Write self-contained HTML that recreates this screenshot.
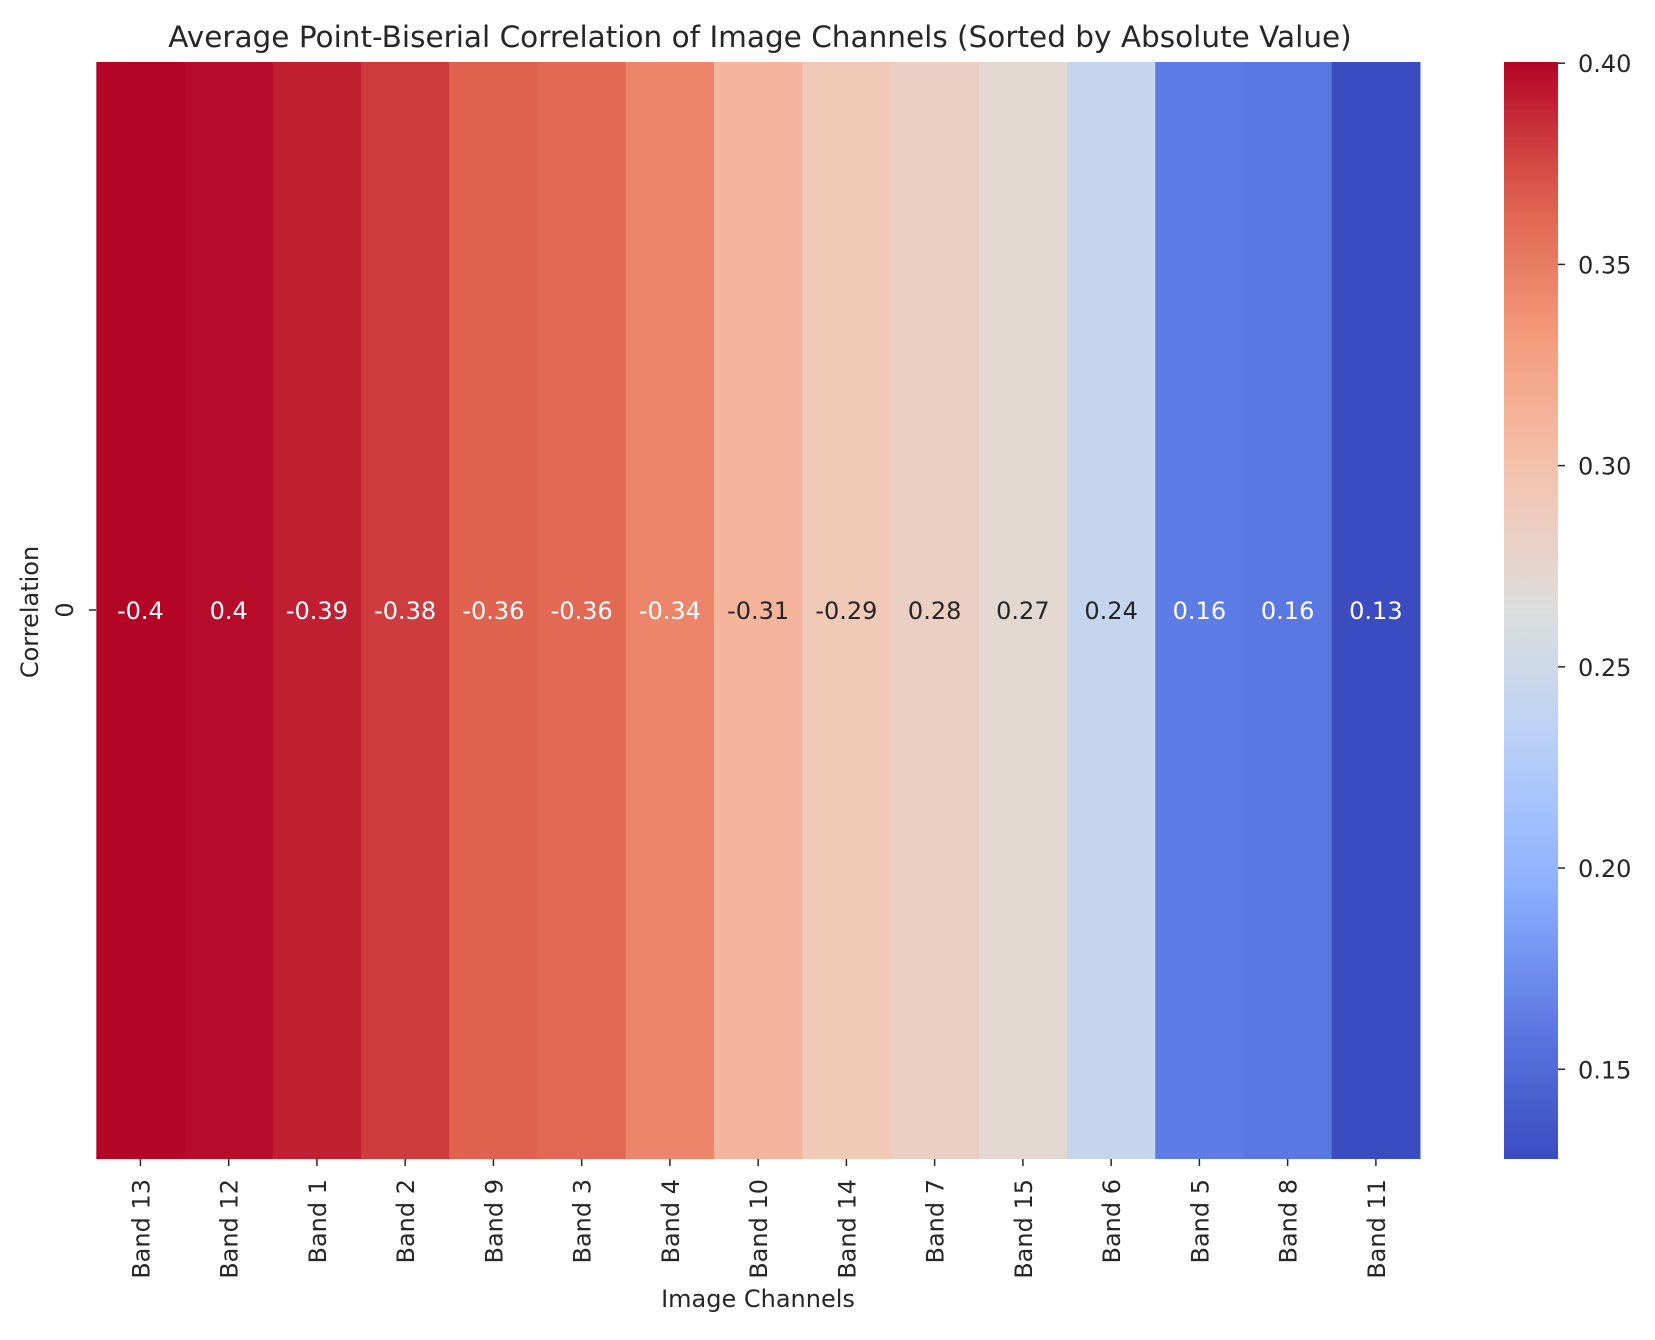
<!DOCTYPE html>
<html><head><meta charset="utf-8"><style>
html,body{margin:0;padding:0;background:#fff;}
svg text{font-family:"DejaVu Sans","Liberation Sans",sans-serif;fill:#262626;}
</style></head><body>
<svg id="chart" width="1655" height="1335" xmlns="http://www.w3.org/2000/svg">
<text x="760" y="47" font-size="29.5" text-anchor="middle">Average Point-Biserial Correlation of Image Channels (Sorted by Absolute Value)</text>
<g id="cells"></g>
<g id="xticks"></g>
<text x="758" y="1307" font-size="24" text-anchor="middle">Image Channels</text>
<text x="0" y="0" font-size="24" text-anchor="middle" transform="translate(38,612) rotate(-90)">Correlation</text>
<line x1="89" x2="96" y1="610" y2="610" stroke="#262626" stroke-width="1.5"/>
<text x="0" y="0" font-size="24" text-anchor="middle" transform="translate(73,610) rotate(-90)">0</text>
<defs><linearGradient id="cbgrad" x1="0" y1="1" x2="0" y2="0"></linearGradient></defs>
<rect x="1504" y="62" width="54" height="1097" fill="url(#cbgrad)"/>
<g id="cbticks"></g>
</svg>
<script>
const categories = ["Band 13","Band 12","Band 1","Band 2","Band 9","Band 3","Band 4","Band 10","Band 14","Band 7","Band 15","Band 6","Band 5","Band 8","Band 11"];
const values = [-0.4003,0.3975,-0.3905,-0.3795,-0.3645,-0.3605,-0.3445,-0.3100,-0.2910,0.2830,0.2720,0.2430,0.1630,0.1600,0.1277];
const cbTicks = [0.15,0.20,0.25,0.30,0.35,0.40];

const cmStops = [[0,[59,76,192]],[0.125,[92,122,228]],[0.25,[141,176,254]],[0.375,[184,208,249]],[0.5,[221,221,221]],[0.625,[245,196,173]],[0.75,[244,154,123]],[0.875,[222,96,77]],[1,[180,4,38]]];
function cmap(t){t=Math.max(0,Math.min(1,t));for(let i=1;i<cmStops.length;i++){if(t<=cmStops[i][0]){const a=cmStops[i-1],b=cmStops[i];const f=(t-a[0])/(b[0]-a[0]);const c=a[1].map((v,k)=>Math.round(v+(b[1][k]-v)*f));return c;}}return cmStops[cmStops.length-1][1];}
const NS="http://www.w3.org/2000/svg";
const abs=values.map(Math.abs);
const vmin=Math.min(...abs), vmax=Math.max(...abs);
const L=96.3,R=1420,T=62,B=1159;
const cw=(R-L)/categories.length;
function xPos(i){return L+i*cw;}
function norm(v){return (v-vmin)/(vmax-vmin);}
const cells=document.getElementById('cells'), xt=document.getElementById('xticks');
categories.forEach((c,i)=>{
  const col=cmap(norm(abs[i]));
  const r=document.createElementNS(NS,'rect');
  
  
  r.setAttribute('x',xPos(i));r.setAttribute('y',T);r.setAttribute('width',cw+0.5);r.setAttribute('height',B-T);
  r.setAttribute('fill',`rgb(${col})`);cells.appendChild(r);
  const lum=(0.299*col[0]+0.587*col[1]+0.114*col[2]);
  const t=document.createElementNS(NS,'text');
  
  
  t.setAttribute('x',xPos(i)+cw/2);t.setAttribute('y',619);t.setAttribute('font-size','24');t.setAttribute('text-anchor','middle');
  t.style.fill=lum>180?'#262626':'#ffffff';
  t.textContent=parseFloat(values[i].toPrecision(2)).toString();cells.appendChild(t);
  const tk=document.createElementNS(NS,'line');
  
  
  tk.setAttribute('x1',xPos(i)+cw/2);tk.setAttribute('x2',xPos(i)+cw/2);tk.setAttribute('y1',B);tk.setAttribute('y2',B+7);tk.setAttribute('stroke','#262626');tk.setAttribute('stroke-width','1.5');xt.appendChild(tk);
  const lb=document.createElementNS(NS,'text');
  
  
  lb.setAttribute('font-size','24');lb.setAttribute('text-anchor','end');
  lb.setAttribute('transform',`translate(${xPos(i)+cw/2+9},${B+20}) rotate(-90)`);
  lb.textContent=c;xt.appendChild(lb);
});
const g=document.getElementById('cbgrad');
for(let k=0;k<=20;k++){const s=document.createElementNS(NS,'stop');s.setAttribute('offset',k/20);s.setAttribute('stop-color',`rgb(${cmap(k/20)})`);g.appendChild(s);}
const cb=document.getElementById('cbticks');
function cbY(v){return B-(v-vmin)/(vmax-vmin)*(B-T);}
cbTicks.forEach(v=>{
  const y=cbY(v);
  const l=document.createElementNS(NS,'line');
  
  
  l.setAttribute('x1',1558);l.setAttribute('x2',1565);l.setAttribute('y1',y);l.setAttribute('y2',y);l.setAttribute('stroke','#262626');l.setAttribute('stroke-width','1.5');cb.appendChild(l);
  const t=document.createElementNS(NS,'text');
  
  
  t.setAttribute('x',1578);t.setAttribute('y',y+9);t.setAttribute('font-size','24');
  t.textContent=v.toFixed(2);cb.appendChild(t);
});
</script>
</body></html>
